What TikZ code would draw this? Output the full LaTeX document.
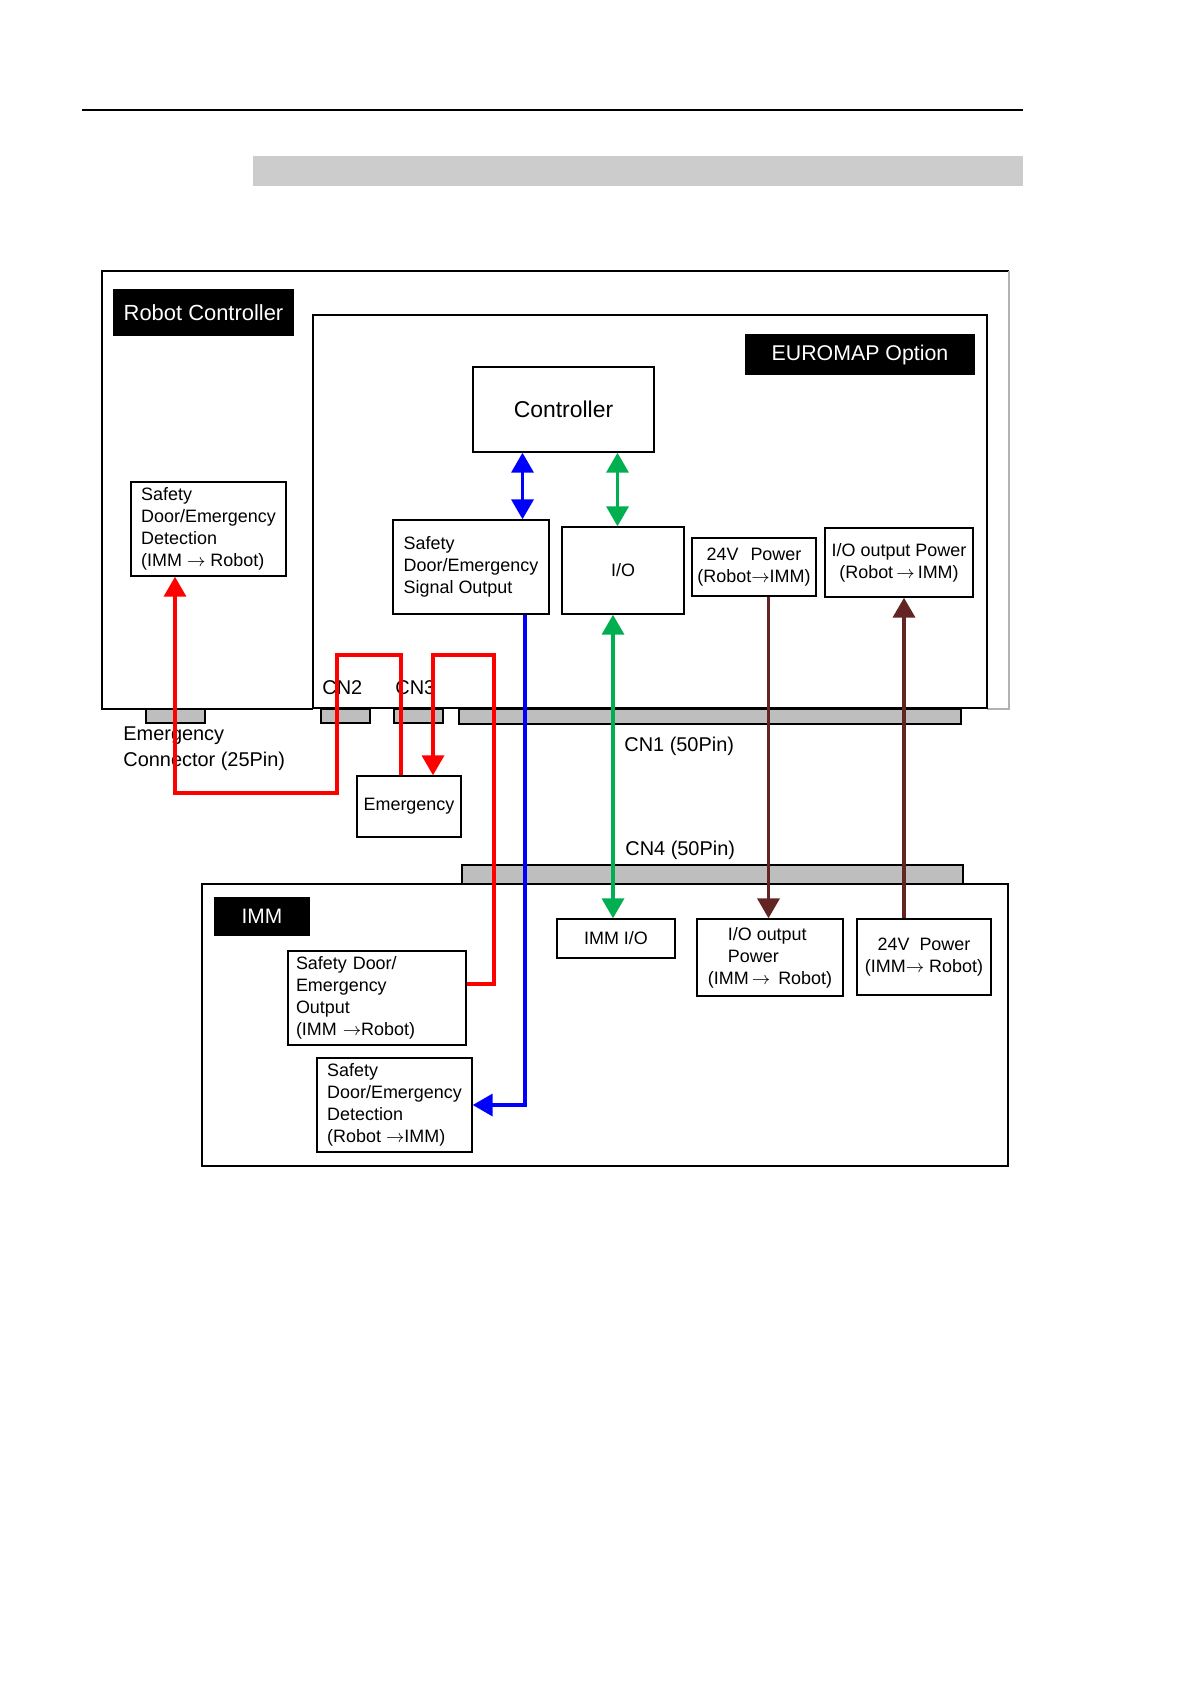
\documentclass[tikz,border=0pt]{standalone}
\usepackage{fontspec}
\setmainfont{Liberation Sans}
\usetikzlibrary{arrows.meta}

\definecolor{wirered}{RGB}{255,0,0}
\definecolor{wireblue}{RGB}{0,0,255}
\definecolor{wiregreen}{RGB}{0,176,80}
\definecolor{wirebrown}{RGB}{99,37,35}
\definecolor{plugfill}{RGB}{190,190,190}
\definecolor{bandfill}{RGB}{204,204,204}

\tikzset{
  >={Triangle[width=11bp,length=10bp]},
  box/.style={draw, line width=0.7bp, inner sep=0pt, align=center, font=\fontsize{9}{11}\selectfont},
  tag/.style={fill=black, text=white, inner sep=0pt, font=\fontsize{11}{13}\selectfont},
  lbl/.style={inner sep=0pt, font=\fontsize{10}{12.5}\selectfont},
  frame/.style={line width=0.8bp},
  plug/.style={draw, fill=plugfill, line width=0.6bp},
  wire/.style={line width=1.8bp},
  redwire/.style={wire, wirered},
  bluewire/.style={wire, wireblue},
  greenwire/.style={wire, wiregreen},
  brownwire/.style={wire, wirebrown, line width=1.9bp},
}

\begin{document}
\begin{tikzpicture}[x=0.5bp, y=-0.5bp]
  \useasboundingbox (0,0) rectangle (1191,1684);

  % page header
  \draw[line width=1.2bp] (82,110) -- (1023,110);
  \fill[bandfill] (253,156) rectangle (1023,186);

  % robot controller and EUROMAP frames
  \draw[frame] (313,709) -| (102,271) -- (1009,271);
  \draw[frame, black!30] (1009,271) |- (987,709);
  \draw[frame, line width=1.3bp] (313,315) rectangle (987,708);

  % IMM frame
  \draw[frame] (202,884) rectangle (1008,1166);

  % connectors
  \draw[plug] (146,709) rectangle (205,723);
  \draw[plug] (321,709) rectangle (370,723);
  \draw[plug] (394,709) rectangle (443,723);
  \draw[plug] (459,709) rectangle (961,724);
  \draw[plug] (462,865) rectangle (963,884);

  % titles
  \node[tag, minimum width=90.5bp, minimum height=23.5bp] (rctag) at (203.5,312.5) {Robot Controller};
  \node[tag, minimum width=115bp, minimum height=20.5bp, font=\fontsize{10.7}{13}\selectfont] (eutag) at (860,354.5) {EUROMAP Option};
  \node[tag, minimum width=48bp, minimum height=19.5bp, font=\fontsize{10.5}{13}\selectfont] (immtag) at (262,916.5) {IMM};

  % robot controller side
  \node[box, minimum width=90.5bp, minimum height=42.5bp, font=\fontsize{11.5}{14}\selectfont] (ctrl) at (563.5,409.5) {Controller};
  \node[box, align=left, minimum width=77.5bp, minimum height=47bp] (rcdet) at (208.5,529) {Safety\\Door/Emergency\\Detection\\(IMM $\rightarrow$ Robot)};
  \node[box, align=left, minimum width=78bp, minimum height=47bp] (sigout) at (471,567) {Safety\\Door/Emergency\\Signal Output};
  \node[box, minimum width=61bp, minimum height=43.5bp] (io) at (623,570.5) {I/O};
  \node[box, minimum width=62bp, minimum height=29bp] (pw24) at (754,567) {24V\hspace{6bp}Power\\(Robot$\rightarrow$IMM)};
  \node[box, minimum width=74bp, minimum height=34.5bp] (iop) at (899,562.5) {I/O output Power\\(Robot$\,\rightarrow\,$IMM)};
  \node[box, minimum width=52bp, minimum height=30.5bp] (emerg) at (409,806.5) {Emergency};

  % IMM side
  \node[box, minimum width=59bp, minimum height=19.5bp] (immio) at (616,938.5) {IMM I/O};
  \node[box, align=left, minimum width=73bp, minimum height=38.5bp] (immiop) at (770,957.5) {\hspace*{10bp}I/O output\\\hspace*{10bp}Power\\(IMM$\,\rightarrow\,$ Robot)};
  \node[box, minimum width=67bp, minimum height=38bp] (immpw) at (924,957) {24V\ \ Power\\(IMM$\rightarrow$ Robot)};
  \node[box, align=left, text width=81bp, inner xsep=4bp, minimum height=47bp] (immout) at (377,998) {Safety Door/\\Emergency\\Output\\(IMM $\rightarrow$Robot)};
  \node[box, align=left, minimum width=77.5bp, minimum height=47bp] (immdet) at (394.5,1105) {Safety\\Door/Emergency\\Detection\\(Robot $\rightarrow$IMM)};

  % connector labels
  \node[lbl, anchor=west, align=left, font=\fontsize{10}{13}\selectfont] (emconn) at (123,749) {Emergency\\Connector (25Pin)};
  \node[lbl, anchor=west] (cn2) at (322,688) {CN2};
  \node[lbl, anchor=west] (cn3) at (395,688) {CN3};
  \node[lbl, anchor=west] (cn1) at (624,746) {CN1 (50Pin)};
  \node[lbl, anchor=west] (cn4) at (625,850) {CN4 (50Pin)};

  % wire columns and corners
  \coordinate (bup) at (522.5,0);
  \coordinate (bdn) at (525,0);
  \coordinate (gup) at (617.5,0);
  \coordinate (gdn) at (613,0);
  \coordinate (brup) at (768.5,0);
  \coordinate (brdn) at (904,0);
  \coordinate (ra) at (175,793);
  \coordinate (rb) at (337,655);
  \coordinate (rc) at (401,655);
  \coordinate (rd) at (433,655);
  \coordinate (re) at (494,655);

  % wires
  \draw[bluewire, <->] (ctrl.south -| bup) -- (sigout.north -| bup);
  \draw[bluewire, ->] (sigout.south -| bdn) |- (immdet.east);
  \draw[greenwire, <->] (ctrl.south -| gup) -- (io.north -| gup);
  \draw[greenwire, <->] (io.south -| gdn) -- (immio.north -| gdn);
  \draw[redwire, <-] (rcdet.south -| ra) -- (ra) -| (rb) -| (emerg.north -| rc);
  \draw[redwire, <-] (emerg.north -| rd) |- (re) |- ([yshift=7bp]immout.east);
  \draw[brownwire, ->] (pw24.south -| brup) -- (immiop.north -| brup);
  \draw[brownwire, ->] (immpw.north -| brdn) -- (iop.south -| brdn);
\end{tikzpicture}
\end{document}
